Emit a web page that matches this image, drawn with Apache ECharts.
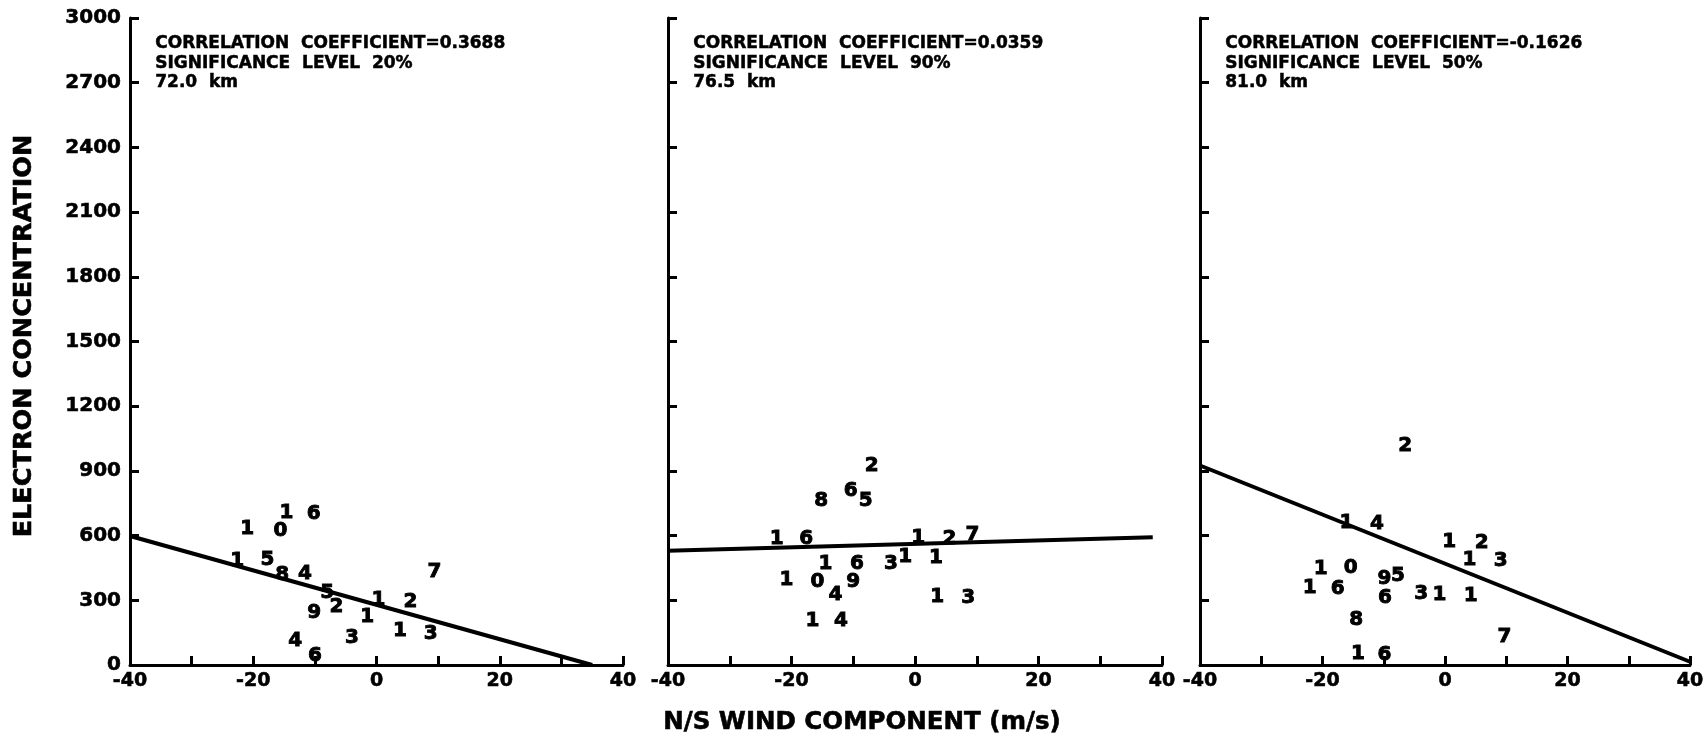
<!DOCTYPE html>
<html><head><meta charset="utf-8">
<script src="https://cdn.jsdelivr.net/npm/echarts@6/dist/echarts.min.js"></script>
<style>html,body{margin:0;padding:0;background:#fff}#c{width:1707px;height:746px}</style>
</head><body><div id="c"></div>
<script>
// ---- data ----
const p1Wind   = [-21.0, -15.6, -14.6, -10.2, -22.6, -17.7, -15.3, -11.6, -8.0, -6.5, -10.1, -1.5, 0.3, 5.5, 3.8, 8.8, 9.4, -13.2, -4.0, -10.0];
const p1Conc   = [632, 620, 707, 702, 482, 487, 420, 424, 335, 270, 242, 225, 301, 294, 160, 146, 434, 113, 125, 42];
const p1Digits = ['1','0','1','6','1','5','8','4','5','2','9','1','1','2','1','3','7','4','3','6'];
const p1LineX  = [-40, 35];
const p1LineY  = [598, 0];

const p2Wind   = [-7.0, -10.4, -8.0, -15.2, -22.4, -17.6, 0.5, 5.6, 9.3, -14.5, -9.4, -3.9, -1.6, 3.4, -20.8, -15.8, -10.0, -12.9, 3.6, 8.6, -16.6, -12.0];
const p2Conc   = [922, 808, 761, 762, 583, 583, 590, 587, 605, 468, 468, 470, 500, 495, 393, 388, 388, 325, 318, 313, 207, 205];
const p2Digits = ['2','6','5','8','1','6','1','2','7','1','6','3','1','1','1','0','9','4','1','3','1','4'];
const p2LineX  = [-40, 38.5];
const p2LineY  = [530, 592];

const p3Wind   = [-6.5, -16.1, -11.1, 0.7, 6.0, 4.0, 9.1, -20.3, -15.4, -22.1, -17.5, -7.7, -9.9, -9.8, -3.9, -0.9, 4.2, -14.5, 9.7, -14.2, -9.9];
const p3Conc   = [1018, 660, 655, 572, 567, 487, 481, 446, 450, 358, 352, 415, 400, 310, 330, 325, 322, 208, 133, 50, 47];
const p3Digits = ['2','1','4','1','2','1','3','1','0','1','6','5','9','6','3','1','1','8','7','1','6'];
const p3LineX  = [-40, 40];
const p3LineY  = [925, 15];

const xMin = -40, xMax = 40, xStep = 10, xLabelStep = 20;
const yMin = 0, yMax = 3000, yStep = 300;

const notes = [
  ['CORRELATION  COEFFICIENT=0.3688', 'SIGNIFICANCE  LEVEL  20%', '72.0  km'],
  ['CORRELATION  COEFFICIENT=0.0359', 'SIGNIFICANCE  LEVEL  90%', '76.5  km'],
  ['CORRELATION  COEFFICIENT=-0.1626', 'SIGNIFICANCE  LEVEL  50%', '81.0  km']
];
const yTitle = 'ELECTRON CONCENTRATION';
const xTitle = 'N/S WIND COMPONENT (m/s)';

// ---- layout ----
const FONT = '"DejaVu Sans", "Liberation Sans", sans-serif';
const grids = [
  {left: 130, top: 18, width: 493, height: 647},
  {left: 668, top: 18, width: 494, height: 647},
  {left: 1200, top: 18, width: 490, height: 647}
];
const panels = [
  {wind: p1Wind, conc: p1Conc, digits: p1Digits, lx: p1LineX, ly: p1LineY},
  {wind: p2Wind, conc: p2Conc, digits: p2Digits, lx: p2LineX, ly: p2LineY},
  {wind: p3Wind, conc: p3Conc, digits: p3Digits, lx: p3LineX, ly: p3LineY}
];

const axisLine = {show: true, onZero: false, lineStyle: {color: '#000', width: 3}};
const axisTick = {show: true, inside: true, length: 9, lineStyle: {color: '#000', width: 3}};
const boldLabel = {color: '#000', fontFamily: FONT, fontWeight: 'bold',
                   textBorderColor: '#000', textBorderWidth: 0.6};

const xAxes = grids.map((g, i) => ({
  gridIndex: i, type: 'value', min: xMin, max: xMax, interval: xStep,
  axisLine, axisTick, splitLine: {show: false},
  axisLabel: Object.assign({
    show: true, showMinLabel: true, showMaxLabel: true,
    fontSize: 19, margin: 7,
    formatter: v => (v % xLabelStep === 0 ? String(v) : '')
  }, boldLabel)
}));
const yAxes = grids.map((g, i) => ({
  gridIndex: i, type: 'value', min: yMin, max: yMax, interval: yStep,
  axisLine, axisTick, splitLine: {show: false},
  axisLabel: Object.assign({
    show: i === 0, fontSize: 20, margin: 9,
    formatter: v => String(v)
  }, boldLabel)
}));

const series = [];
panels.forEach((p, i) => {
  series.push({
    type: 'line', xAxisIndex: i, yAxisIndex: i,
    data: p.lx.map((x, k) => [x, p.ly[k]]),
    showSymbol: false, symbol: 'none', silent: true,
    lineStyle: {color: '#000', width: 4}, z: 3
  });
  series.push({
    type: 'scatter', xAxisIndex: i, yAxisIndex: i,
    data: p.wind.map((x, k) => ({value: [x, p.conc[k]], name: p.digits[k]})),
    symbol: 'circle', symbolSize: 0.5, silent: true,
    itemStyle: {color: '#000', opacity: 1, borderWidth: 0},
    label: {
      show: true, position: 'inside', formatter: '{b}', fontSize: 20,
      color: '#000', opacity: 1, fontFamily: FONT, fontWeight: 'bold',
      textBorderColor: '#000', textBorderWidth: 0.9
    },
    z: 4
  });
});

const graphic = [];
grids.forEach((g, i) => {
  graphic.push({
    type: 'text', left: g.left + 25, top: 34,
    style: {
      text: notes[i].join('\n'), fill: '#000', stroke: '#000', lineWidth: 0.5,
      font: 'bold 17px ' + FONT, lineHeight: 19.5
    }
  });
});
graphic.push({
  type: 'text', x: 24, y: 336, rotation: Math.PI / 2,
  style: {text: yTitle, fill: '#000', stroke: '#000', lineWidth: 0.6,
          font: 'bold 25.5px ' + FONT,
          textAlign: 'center', textVerticalAlign: 'middle'}
});
graphic.push({
  type: 'text', x: 862, y: 723,
  style: {text: xTitle, fill: '#000', stroke: '#000', lineWidth: 0.6,
          font: 'bold 24.5px ' + FONT,
          textAlign: 'center', textVerticalAlign: 'middle'}
});

const chart = echarts.init(document.getElementById('c'), null, {renderer: 'canvas'});
chart.setOption({
  animation: false,
  backgroundColor: '#fff',
  grid: grids,
  xAxis: xAxes,
  yAxis: yAxes,
  series,
  graphic
});
</script></body></html>
